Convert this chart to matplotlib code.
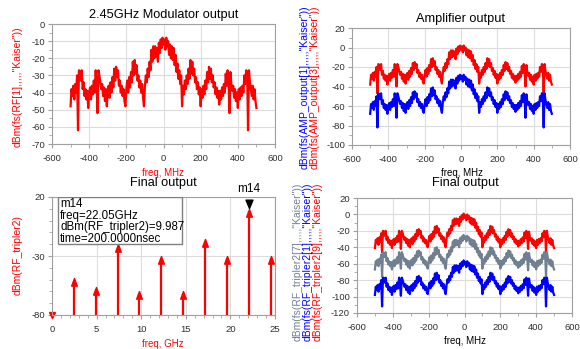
import numpy as np
import matplotlib.pyplot as plt
from matplotlib.path import Path
from matplotlib.patches import Rectangle
from matplotlib.ticker import MultipleLocator, FixedLocator

plt.rcParams['font.family'] = ['Liberation Sans', 'DejaVu Sans']
plt.rcParams['axes.unicode_minus'] = False

# frequency grid of the ADS fs() traces, MHz
freq_mhz = np.arange(-500, 505, 5)

# 2.45GHz modulator output, dBm
mod_rf = [
    -48, -38, -42, -36, -44, -35, -40, -30, -62, -27, -28, -33, -27, -38, -34, -42, -38, -44, -39, -49, -40,
    -37, -44, -36, -41, -33, -40, -27, -35, -52, -27, -30, -34, -38, -35, -42, -37, -45, -38, -48, -39,
    -36, -43, -34, -40, -31, -37, -26, -33, -25, -31, -27, -36, -33, -40, -36, -42, -38, -45, -48, -38,
    -33, -40, -31, -37, -28, -34, -22, -30, -21, -29, -24, -33, -30, -37, -33, -40, -35, -43, -48, -36,
    -30, -34, -26, -31, -22, -27, -15, -22, -13, -20, -13, -19, -14, -22, -11, -17, -9, -14, -8, -12,
    -9, -15, -8, -13, -10, -18, -12, -20, -13, -21, -14, -24, -18, -28, -23, -32, -27, -35, -30, -48,
    -36, -41, -33, -38, -30, -35, -26, -32, -21, -29, -22, -30, -26, -34, -31, -38, -34, -41, -37, -48,
    -38, -43, -36, -41, -33, -38, -28, -34, -25, -32, -26, -34, -30, -37, -34, -41, -37, -43, -39, -47,
    -39, -44, -37, -42, -35, -40, -29, -36, -27, -33, -52, -28, -35, -39, -36, -43, -38, -45, -40, -49,
    -38, -44, -37, -42, -36, -40, -30, -35, -27, -28, -62, -27, -34, -38, -42, -36, -44, -38, -45, -49,
]

# amplifier output, AMP_output[3] (red) and AMP_output[1] (blue)
amp_out3 = [
    -38, -28, -32, -26, -34, -25, -30, -20, -47, -17, -18, -23, -17, -28, -24, -32, -28, -34, -29, -38, -30,
    -27, -34, -26, -31, -23, -30, -17, -25, -40, -17, -20, -24, -28, -25, -32, -27, -35, -28, -37, -29,
    -26, -33, -24, -30, -21, -27, -16, -23, -15, -21, -17, -26, -23, -30, -26, -32, -28, -35, -37, -28,
    -23, -30, -21, -27, -18, -24, -12, -20, -11, -19, -14, -23, -20, -27, -23, -30, -25, -33, -37, -26,
    -20, -24, -16, -21, -12, -17, -5, -12, -3, -10, -3, -9, -4, -12, -1, -7, 1, -4, 2, -2,
    1, -5, 2, -3, 0, -8, -2, -10, -3, -11, -4, -14, -8, -18, -13, -22, -17, -25, -20, -37,
    -26, -31, -23, -28, -20, -25, -16, -22, -11, -19, -12, -20, -16, -24, -21, -28, -24, -31, -27, -37,
    -28, -33, -26, -31, -23, -28, -18, -24, -15, -22, -16, -24, -20, -27, -24, -31, -27, -33, -29, -36,
    -29, -34, -27, -32, -25, -30, -19, -26, -17, -23, -40, -18, -25, -29, -26, -33, -28, -35, -30, -38,
    -28, -34, -27, -32, -26, -30, -20, -25, -17, -18, -47, -17, -24, -28, -32, -26, -34, -28, -35, -38,
]
amp_out1 = [
    -68, -58, -62, -56, -64, -55, -60, -50, -82, -47, -48, -53, -47, -58, -54, -62, -58, -64, -59, -68, -60,
    -57, -64, -56, -61, -53, -60, -47, -55, -72, -47, -50, -54, -58, -55, -62, -57, -65, -58, -67, -59,
    -56, -63, -54, -60, -51, -57, -46, -53, -45, -51, -47, -56, -53, -60, -56, -62, -58, -65, -67, -58,
    -53, -60, -51, -57, -48, -54, -42, -50, -41, -49, -44, -53, -50, -57, -53, -60, -55, -63, -67, -56,
    -50, -54, -46, -51, -42, -47, -35, -42, -33, -40, -33, -39, -34, -42, -31, -37, -29, -34, -28, -32,
    -29, -35, -28, -33, -30, -38, -32, -40, -33, -41, -34, -44, -38, -48, -43, -52, -47, -55, -50, -67,
    -56, -61, -53, -58, -50, -55, -46, -52, -41, -49, -42, -50, -46, -54, -51, -58, -54, -61, -57, -67,
    -58, -63, -56, -61, -53, -58, -48, -54, -45, -52, -46, -54, -50, -57, -54, -61, -57, -63, -59, -66,
    -59, -64, -57, -62, -55, -60, -49, -56, -47, -53, -72, -48, -55, -59, -56, -63, -58, -65, -60, -68,
    -58, -64, -57, -62, -56, -60, -50, -55, -47, -48, -82, -47, -54, -58, -62, -56, -64, -58, -65, -68,
]

# final output, RF_tripler2[9] (red), [7] (grey), [1] (blue)
trip_9 = [
    -41, -31, -35, -29, -37, -28, -33, -23, -46, -20, -21, -26, -20, -31, -27, -35, -31, -37, -32, -41, -33,
    -30, -37, -29, -34, -26, -33, -20, -28, -42, -20, -23, -27, -31, -28, -35, -30, -38, -31, -40, -32,
    -29, -36, -27, -33, -24, -30, -19, -26, -18, -24, -20, -29, -26, -33, -29, -35, -31, -38, -40, -31,
    -26, -33, -24, -30, -21, -27, -15, -23, -14, -22, -17, -26, -23, -30, -26, -33, -28, -36, -40, -29,
    -22, -26, -18, -23, -14, -19, -7, -14, -5, -12, -5, -11, -6, -14, -3, -9, -1, -6, 1, -4,
    -1, -7, 0, -5, -2, -10, -4, -12, -5, -13, -6, -16, -10, -20, -15, -24, -19, -27, -22, -40,
    -29, -34, -26, -31, -23, -28, -19, -25, -14, -22, -15, -23, -19, -27, -24, -31, -27, -34, -30, -40,
    -31, -36, -29, -34, -26, -31, -21, -27, -18, -25, -19, -27, -23, -30, -27, -34, -30, -36, -32, -39,
    -32, -37, -30, -35, -28, -33, -22, -29, -20, -26, -42, -21, -28, -32, -29, -36, -31, -38, -33, -41,
    -31, -37, -30, -35, -29, -33, -23, -28, -20, -21, -46, -20, -27, -31, -35, -29, -37, -31, -38, -41,
]
trip_7 = [
    -67, -57, -61, -55, -63, -54, -59, -49, -76, -46, -47, -52, -46, -57, -53, -61, -57, -63, -58, -67, -59,
    -56, -63, -55, -60, -52, -59, -46, -54, -66, -46, -49, -53, -57, -54, -61, -56, -64, -57, -66, -58,
    -55, -62, -53, -59, -50, -56, -45, -52, -44, -50, -46, -55, -52, -59, -55, -61, -57, -64, -66, -57,
    -52, -59, -50, -56, -47, -53, -41, -49, -40, -48, -43, -52, -49, -56, -52, -59, -54, -62, -66, -55,
    -48, -52, -44, -49, -40, -45, -33, -40, -31, -38, -31, -37, -32, -40, -29, -35, -27, -32, -25, -30,
    -27, -33, -26, -31, -28, -36, -30, -38, -31, -39, -32, -42, -36, -46, -41, -50, -45, -53, -48, -66,
    -55, -60, -52, -57, -49, -54, -45, -51, -40, -48, -41, -49, -45, -53, -50, -57, -53, -60, -56, -66,
    -57, -62, -55, -60, -52, -57, -47, -53, -44, -51, -45, -53, -49, -56, -53, -60, -56, -62, -58, -65,
    -58, -63, -56, -61, -54, -59, -48, -55, -46, -52, -68, -47, -54, -58, -55, -62, -57, -64, -59, -67,
    -57, -63, -56, -61, -55, -59, -49, -54, -46, -47, -76, -46, -53, -57, -61, -55, -63, -57, -64, -67,
]
trip_1 = [
    -98, -88, -92, -86, -94, -85, -90, -80, -112, -77, -78, -83, -77, -88, -84, -92, -88, -94, -89, -98, -90,
    -87, -94, -86, -91, -83, -90, -77, -85, -99, -77, -80, -84, -88, -85, -92, -87, -95, -88, -97, -89,
    -86, -93, -84, -90, -81, -87, -76, -83, -75, -81, -77, -86, -83, -90, -86, -92, -88, -95, -97, -88,
    -83, -90, -81, -87, -78, -84, -72, -80, -71, -79, -74, -83, -80, -87, -83, -90, -85, -93, -97, -86,
    -79, -83, -75, -80, -71, -76, -64, -71, -62, -69, -62, -68, -63, -71, -60, -66, -58, -63, -56, -61,
    -58, -64, -57, -62, -59, -67, -61, -69, -62, -70, -63, -73, -67, -77, -72, -81, -76, -84, -79, -97,
    -86, -91, -83, -88, -80, -85, -76, -82, -71, -79, -72, -80, -76, -84, -81, -88, -84, -91, -87, -97,
    -88, -93, -86, -91, -83, -88, -78, -84, -75, -82, -76, -84, -80, -87, -84, -91, -87, -93, -89, -96,
    -89, -94, -87, -92, -85, -90, -79, -86, -77, -83, -99, -78, -85, -89, -86, -93, -88, -95, -90, -98,
    -88, -94, -87, -92, -86, -90, -80, -85, -77, -78, -112, -77, -84, -88, -92, -86, -94, -88, -95, -98,
]

# tripler harmonics (GHz, dBm)
harm_ghz = [0, 2.45, 4.9, 7.35, 9.8, 12.25, 14.7, 17.15, 19.6, 22.05, 24.5]
harm_dbm = [-80, -49, -56, -20, -60, -30, -60, -16, -30, 9.987, -30]
harm_yticks = [20, -30, -80]
marker_lines = ['m14', 'freq=22.05GHz', 'dBm(RF_tripler2)=9.987', 'time=200.0000nsec']

RED, BLUE, GREY = '#ff0000', '#0000ff', '#708090'
W, H = 580, 349


def px_axes(left, top, right, bottom):
    return fig.add_axes([left / W, 1 - bottom / H, (right - left) / W, (bottom - top) / H])


def ads_style(ax, xmaj, xmin, ymaj, ymin):
    ax.xaxis.set_major_locator(MultipleLocator(xmaj))
    ax.xaxis.set_minor_locator(MultipleLocator(xmin))
    if ymaj is not None:
        ax.yaxis.set_major_locator(MultipleLocator(ymaj))
    ax.yaxis.set_minor_locator(MultipleLocator(ymin))
    ax.grid(True, which='major', color='#dcdcdc', lw=0.8)
    ax.set_axisbelow(True)
    for s in ax.spines.values():
        s.set_color('#a0a0a0')
        s.set_linewidth(0.8)
    ax.tick_params(which='both', colors='#a0a0a0', labelcolor='#303030', labelsize=6.8, pad=2)
    ax.tick_params(which='major', length=3)
    ax.tick_params(which='minor', length=2)
    ax.tick_params(axis='x', pad=4)


fig = plt.figure(figsize=(5.8, 3.49), dpi=100)

# --- top left: modulator
ax1 = px_axes(52, 24, 275, 144)
ax1.plot(freq_mhz, mod_rf, color=RED, lw=1.6)
ax1.set_xlim(-600, 600)
ax1.set_ylim(-70, 0)
ads_style(ax1, 200, 100, 10, 5)
fig.text(164 / W, 1 - 15 / H, '2.45GHz Modulator output', ha='center', va='center', fontsize=9.2)
fig.text(163 / W, 1 - 173 / H, 'freq, MHz', ha='center', va='center', fontsize=7, color=RED)
fig.text(18 / W, 1 - 87 / H, 'dBm(fs(RF[1],,,,,"Kaiser"))', rotation=90,
         ha='center', va='center', fontsize=7.5, color=RED)

# --- top right: amplifier
ax2 = px_axes(352, 28, 570, 145)
ax2.plot(freq_mhz, amp_out3, color=RED, lw=1.6)
ax2.plot(freq_mhz, amp_out1, color=BLUE, lw=1.6)
ax2.set_xlim(-600, 600)
ax2.set_ylim(-100, 20)
ads_style(ax2, 200, 100, 20, 10)
fig.text(460 / W, 1 - 19 / H, 'Amplifier output', ha='center', va='center', fontsize=9.2)
fig.text(462 / W, 1 - 173 / H, 'freq, MHz', ha='center', va='center', fontsize=7)
fig.text(305 / W, 1 - 87 / H, 'dBm(fs(AMP_output[1],,,,,"Kaiser"))', rotation=90,
         ha='center', va='center', fontsize=7.5, color=BLUE)
fig.text(315 / W, 1 - 87 / H, 'dBm(fs(AMP_output[3],,,,,"Kaiser"))', rotation=90,
         ha='center', va='center', fontsize=7.5, color=RED)

# --- bottom left: harmonics
ax3 = px_axes(52, 197, 275, 315)
up_arrow = Path([(-0.45, -1.2), (0.45, -1.2), (0, 0), (-0.45, -1.2)],
                [Path.MOVETO, Path.LINETO, Path.LINETO, Path.CLOSEPOLY])
down_arrow = Path([(-0.5, 1.2), (0.5, 1.2), (0, 0), (-0.5, 1.2)],
                  [Path.MOVETO, Path.LINETO, Path.LINETO, Path.CLOSEPOLY])
ax3.vlines(harm_ghz[1:], -80, np.array(harm_dbm[1:]) - 2, color=RED, lw=1.6)
ax3.plot(harm_ghz[1:], harm_dbm[1:], ls='none', marker=up_arrow, ms=11, color=RED)
ax3.plot(harm_ghz[:1], harm_dbm[:1], ls='none', marker='v', ms=4, color=RED, clip_on=False)
ax3.plot([harm_ghz[9]], [harm_dbm[9] + 1], ls='none', marker=down_arrow, ms=12, color='black')
ax3.text(harm_ghz[9], 27, marker_lines[0], ha='center', va='center', fontsize=8.5, clip_on=False)
ax3.set_xlim(0, 25)
ax3.set_ylim(-80, 20)
ads_style(ax3, 5, 1, None, 10)
ax3.yaxis.set_major_locator(FixedLocator(harm_yticks))
box = Rectangle((0.027, 0.605), 0.556, 0.395, transform=ax3.transAxes,
                facecolor='white', edgecolor='#808080', lw=1, zorder=4)
ax3.add_patch(box)
t = ax3.text(0.036, 0.99, '\n'.join(marker_lines), transform=ax3.transAxes, ha='left', va='top',
             fontsize=8.3, linespacing=0.95, zorder=5)
t.set_clip_path(box)
fig.text(163 / W, 1 - 183 / H, 'Final output', ha='center', va='center', fontsize=9.2)
fig.text(163 / W, 1 - 344 / H, 'freq, GHz', ha='center', va='center', fontsize=7, color=RED)
fig.text(18 / W, 1 - 255 / H, 'dBm(RF_tripler2)', rotation=90,
         ha='center', va='center', fontsize=7.5, color=RED)

# --- bottom right: final spectra
ax4 = px_axes(357, 198, 572, 313)
ax4.plot(freq_mhz, trip_9, color=RED, lw=1.6)
ax4.plot(freq_mhz, trip_7, color=GREY, lw=1.6)
ax4.plot(freq_mhz, trip_1, color=BLUE, lw=1.6)
ax4.set_xlim(-600, 600)
ax4.set_ylim(-120, 20)
ads_style(ax4, 200, 100, 20, 10)
fig.text(465 / W, 1 - 183 / H, 'Final output', ha='center', va='center', fontsize=9.2)
fig.text(465 / W, 1 - 341 / H, 'freq, MHz', ha='center', va='center', fontsize=7)
fig.text(298 / W, 1 - 262 / H, 'dBm(fs(RF_tripler2[7],,,,,"Kaiser"))', rotation=90,
         ha='center', va='center', fontsize=7.5, color=GREY)
fig.text(308 / W, 1 - 262 / H, 'dBm(fs(RF_tripler2[1],,,,,"Kaiser"))', rotation=90,
         ha='center', va='center', fontsize=7.5, color=BLUE)
fig.text(318 / W, 1 - 262 / H, 'dBm(fs(RF_tripler2[9],,,,,"Kaiser"))', rotation=90,
         ha='center', va='center', fontsize=7.5, color=RED)

fig.savefig('out.png', dpi=100)
